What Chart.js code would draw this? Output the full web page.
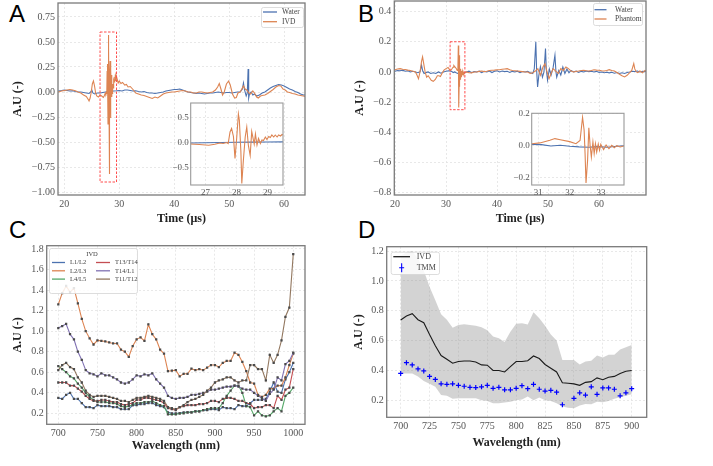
<!DOCTYPE html>
<html>
<head>
<meta charset="utf-8">
<script src="https://cdn.jsdelivr.net/npm/chart.js@4.4.0/dist/chart.umd.min.js"></script>
<style>
  body { margin: 0; background: #fff; width: 713px; height: 466px; overflow: hidden; position: relative; }
  canvas { position: absolute; }
  .lab { position: absolute; font-family: "Liberation Sans", Arial, sans-serif; font-size: 24px; line-height: 1; color: #000; }
</style>
</head>
<body>
<div class="lab" style="left:9px;top:2px">A</div>
<div class="lab" style="left:358px;top:2px">B</div>
<div class="lab" style="left:9px;top:218px">C</div>
<div class="lab" style="left:358px;top:218px">D</div>

<canvas id="cA" width="360" height="232" style="left:0;top:0"></canvas>
<canvas id="cB" width="360" height="232" style="left:353px;top:0"></canvas>
<canvas id="cC" width="360" height="232" style="left:0;top:225px"></canvas>
<canvas id="cD" width="361" height="232" style="left:352px;top:225px"></canvas>
<canvas id="cAi" width="130" height="100" style="left:160px;top:100px"></canvas>
<canvas id="cBi" width="130" height="90" style="left:500px;top:110px"></canvas>

<script>
// ---- panel A: time signals [t (us), amplitude] ----
const waterA = [[18.9,0.01],[19.5,0.015],[20,0.02],[20.5,0.015],[21,0.01],[21.5,0.012],[22,0.005],[22.5,0],[23,0],[23.5,-0.005],[24,-0.01],[24.5,-0.015],[24.8,0],[25,0.02],[25.2,-0.01],[25.5,-0.02],[26,-0.01],[26.5,-0.01],[27,-0.005],[27.5,0],[28,0.005],[28.5,0.008],[29,0.01],[29.5,0.012],[30,0.015],[30.5,0.01],[31,0.02],[31.5,0.02],[32,0.015],[32.5,0.01],[33,0.012],[33.5,0.005],[34,0],[34.5,0.005],[35,-0.005],[35.5,-0.01],[36,-0.01],[36.5,-0.015],[37,-0.01],[37.5,-0.005],[38,0],[38.5,0.01],[39,0.015],[39.5,0.02],[40,0.025],[40.5,0.025],[41,0.03],[41.5,0.02],[42,0.01],[42.5,0],[43,-0.005],[43.5,-0.01],[44,-0.015],[44.5,-0.01],[45,-0.015],[45.5,-0.02],[46,-0.015],[46.5,-0.01],[47,-0.01],[47.5,-0.005],[48,0],[48.5,-0.005],[49,-0.01],[49.5,-0.005],[50,-0.005],[50.5,-0.01],[51,-0.005],[51.5,0],[52,0],[52.4,0.03],[52.6,0.09],[52.8,0.02],[53.1,-0.04],[53.3,-0.01],[53.45,0.23],[53.55,-0.06],[53.7,-0.02],[54,0],[54.3,-0.03],[54.6,-0.02],[55,-0.04],[55.5,-0.03],[56,-0.01],[56.5,0],[57,0.02],[57.5,0.04],[58,0.055],[58.5,0.065],[59,0.075],[59.5,0.07],[60,0.06],[60.5,0.045],[61,0.03],[61.5,0.02],[62,0.005],[62.5,-0.005],[63,-0.02],[63.5,-0.03],[63.8,-0.03]];
const ivdA = [[18.9,0],[19.5,0.01],[20,0.015],[20.5,0.02],[21,0.025],[21.5,0.02],[22,0.012],[22.5,0],[23,-0.01],[23.5,-0.03],[24,-0.045],[24.3,-0.07],[24.5,-0.09],[24.7,-0.06],[24.9,0],[25.1,0.08],[25.3,0.11],[25.5,0.06],[25.7,-0.01],[25.9,-0.04],[26.2,-0.05],[26.5,-0.03],[26.8,-0.04],[27.1,-0.054],[27.3,-0.034],[27.46,-0.01],[27.57,-0.02],[27.68,0],[27.73,-0.02],[27.79,0.21],[27.84,0.28],[27.9,0.12],[27.95,-0.32],[28.0,0.05],[28.06,0.57],[28.09,0.45],[28.14,-0.18],[28.17,-0.82],[28.22,-0.36],[28.28,0.11],[28.33,0.31],[28.38,-0.05],[28.44,-0.26],[28.49,0.22],[28.57,-0.03],[28.61,0.17],[28.66,-0.05],[28.71,0.08],[28.77,-0.02],[28.82,0.05],[28.87,0.04],[28.93,0.11],[28.98,0.06],[29.04,0.12],[29.09,0.1],[29.14,0.15],[29.2,0.11],[29.25,0.15],[29.31,0.11],[29.36,0.15],[29.42,0.13],[29.47,0.16],[29.8,0.09],[30,0.11],[30.3,0.085],[30.6,0.095],[31,0.07],[31.3,0.075],[31.6,0.05],[32,0.055],[32.5,0.025],[33,-0.01],[33.5,-0.02],[34,-0.03],[34.5,-0.035],[35,-0.045],[35.5,-0.055],[36,-0.065],[36.5,-0.05],[37,-0.06],[37.5,-0.04],[38,-0.02],[38.5,-0.01],[39,-0.005],[39.5,0],[40,0],[40.5,0.005],[41,0.01],[41.5,0.015],[42,0.01],[42.5,0],[43,0],[43.5,-0.01],[44,-0.01],[44.5,0],[45,0],[45.5,-0.005],[46,-0.01],[46.5,-0.005],[47,0],[47.5,0.02],[47.9,0.05],[48.2,0.085],[48.5,0.03],[48.8,-0.03],[49.1,0],[49.5,0.08],[49.9,0.11],[50.2,0.07],[50.6,-0.02],[51,-0.06],[51.3,-0.055],[51.6,-0.01],[52,0],[52.3,0.03],[52.6,0.06],[52.9,0.03],[53.2,0.02],[53.6,-0.01],[53.9,-0.02],[54.3,0.01],[54.6,-0.01],[55,-0.05],[55.3,-0.06],[55.7,-0.04],[56,-0.035],[56.5,-0.03],[57,-0.015],[57.5,0.005],[58,0.025],[58.5,0.05],[59,0.065],[59.4,0.06],[59.8,0.03],[60.2,0.02],[60.6,0],[61,-0.005],[61.5,-0.015],[62,-0.02],[62.5,-0.03],[63,-0.035],[63.5,-0.04],[63.8,-0.045]];

// ---- panel B ----
const waterB = [[20,0.005],[20.5,0.01],[21,0.008],[21.5,0.012],[22,0.005],[22.5,0.008],[23,0],[23.5,0.005],[24,0],[24.5,-0.005],[24.9,0],[25.2,0.045],[25.4,0.01],[25.7,-0.01],[26,-0.005],[26.5,0],[27,-0.01],[27.5,-0.005],[28,-0.01],[28.5,0],[29,-0.008],[29.5,0],[30,0.005],[30.5,0.008],[30.8,0.006],[31.1,0.004],[31.4,-0.004],[31.7,0],[32,-0.006],[32.3,-0.01],[32.6,-0.012],[32.9,-0.008],[33.2,-0.012],[33.5,-0.006],[33.8,-0.002],[34,0],[34.5,0.005],[35,-0.005],[35.5,0.003],[36,0],[36.5,0.005],[37,-0.004],[37.5,0.004],[38,0],[38.5,0.006],[39,-0.004],[39.5,0.005],[40,0.008],[40.5,0],[41,0.006],[41.5,0.002],[42,0.005],[42.5,-0.003],[43,0.004],[43.5,0],[44,0.005],[44.5,-0.004],[45,0.003],[45.5,0],[46,0.004],[46.5,-0.005],[47,-0.01],[47.3,0.02],[47.6,0.2],[47.75,0.02],[47.95,-0.1],[48.2,-0.02],[48.5,0.035],[48.9,-0.035],[49.2,0],[49.5,0.155],[49.65,0.02],[49.9,-0.055],[50.25,0.02],[50.6,-0.02],[51,0.03],[51.35,0.11],[51.55,0],[51.7,-0.035],[52.1,0.01],[52.5,-0.02],[52.9,0.033],[53.3,-0.01],[53.7,0.02],[54.1,-0.005],[54.5,0.01],[55,0],[55.5,0.005],[56,-0.003],[56.5,0.004],[57,0],[57.5,0.006],[58,0.002],[58.5,0.005],[59,0],[59.5,0.004],[60,-0.003],[60.5,0],[61,-0.005],[61.5,-0.002],[62,-0.006],[62.5,-0.002],[63,-0.008],[63.5,-0.004],[64,-0.01],[64.5,-0.005],[65,-0.01],[65.5,-0.004],[66,0],[66.5,0.005],[67,0.002],[67.5,0.006],[68,0],[68.5,0.004],[69,0.002],[69.2,0.004]];
const phantomB = [[20,0.015],[20.5,0.02],[21,0.022],[21.5,0.018],[22,0.016],[22.5,0.012],[23,0.01],[23.5,0.005],[24,0],[24.3,-0.02],[24.6,-0.045],[24.9,0],[25.2,0.07],[25.4,0.1],[25.6,0.06],[25.9,0],[26.2,-0.035],[26.5,-0.025],[26.8,-0.04],[27.1,-0.055],[27.5,-0.062],[27.9,-0.05],[28.3,-0.025],[28.6,-0.025],[28.9,-0.03],[29.2,-0.01],[29.6,0.012],[30,0.022],[30.4,0.03],[30.8,0.01],[31.05,0.015],[31.37,0.031],[31.53,0.042],[31.7,0.035],[32.0,0.023],[32.2,0.01],[32.33,0.03],[32.41,0.175],[32.46,0.094],[32.49,-0.052],[32.52,-0.235],[32.57,-0.094],[32.61,0.11],[32.65,0],[32.69,-0.073],[32.74,0.021],[32.78,-0.052],[32.82,0.01],[32.86,-0.042],[32.91,0.008],[32.95,-0.031],[32.99,0.006],[33.08,-0.027],[33.16,0.002],[33.25,-0.021],[33.34,0],[33.42,-0.015],[33.5,-0.002],[33.61,-0.01],[33.72,-0.004],[34,0],[34.5,-0.005],[35,-0.006],[35.5,0],[36,0],[36.5,0.004],[37,0.006],[37.5,0.002],[38,0.005],[38.5,0.01],[39,0.011],[39.5,0.012],[40,0.015],[40.5,0.015],[41,0.018],[41.5,0.02],[42,0.022],[42.5,0.015],[43,0.01],[43.5,0.008],[44,0.006],[44.5,0.004],[45,0.002],[45.5,0],[46,0],[46.5,-0.01],[47,-0.006],[47.5,0.006],[48,0.022],[48.5,-0.022],[49,0.033],[49.4,0.055],[49.8,0],[50.2,-0.044],[50.6,-0.01],[51,0.022],[51.5,0.005],[52,-0.01],[52.5,0.022],[53,0.01],[53.5,0.033],[54,0.022],[54.5,0.006],[55,0],[55.5,0.004],[56,0.006],[56.5,0.01],[57,0.011],[57.5,0.008],[58,0.006],[58.5,0.01],[59,0.015],[59.5,0.012],[60,0.011],[60.5,0.008],[61,0.006],[61.5,0.01],[62,0.015],[62.5,0.01],[63,0.006],[63.5,-0.004],[64,-0.015],[64.5,-0.025],[65,-0.033],[65.5,-0.022],[66,-0.005],[66.4,0.01],[66.8,0.055],[67,0.02],[67.3,0],[67.6,-0.005],[68,0.006],[68.5,-0.005],[69,0.01],[69.2,0.005]];

// zoom windows shown as red dashed boxes [tmin, tmax, vmin, vmax]
const zoomBoxA = [26.5, 29.5, -0.9, 0.6];
const zoomBoxB = [30.8, 33.7, -0.25, 0.2];

// ---- panel C: ratio spectra ----
const wlC = [700,705,710,715,720,725,730,735,740,745,750,755,760,765,770,775,780,785,790,795,800,805,810,815,820,825,830,835,840,845,850,855,860,865,870,875,880,885,890,895,900,905,910,915,920,925,930,935,940,945,950,955,960,965,970,975,980,985,990,995,1000];
const l1l2 = [0.35,0.34,0.38,0.40,0.34,0.34,0.30,0.26,0.26,0.25,0.28,0.27,0.27,0.27,0.26,0.26,0.24,0.24,0.24,0.28,0.28,0.29,0.29,0.30,0.30,0.28,0.27,0.26,0.21,0.20,0.20,0.20,0.21,0.21,0.21,0.22,0.22,0.23,0.23,0.24,0.24,0.23,0.26,0.25,0.25,0.24,0.28,0.27,0.27,0.30,0.33,0.33,0.33,0.34,0.41,0.50,0.41,0.40,0.53,0.60,0.69];
const l2l3 = [1.26,1.37,1.44,1.38,1.42,1.27,1.12,1.00,0.93,0.87,0.91,0.905,0.90,0.89,0.88,0.88,0.82,0.80,0.75,0.855,0.92,0.94,0.905,1.065,0.97,0.92,0.82,0.78,0.61,0.615,0.62,0.56,0.585,0.585,0.635,0.62,0.63,0.62,0.645,0.67,0.67,0.65,0.69,0.71,0.71,0.79,0.77,0.70,0.61,0.50,0.49,0.38,0.36,0.38,0.44,0.44,0.47,0.47,0.55,0.67,0.78];
const l4l5 = [0.66,0.63,0.60,0.56,0.54,0.49,0.45,0.40,0.36,0.33,0.31,0.31,0.31,0.30,0.30,0.29,0.27,0.26,0.27,0.28,0.30,0.30,0.31,0.31,0.32,0.30,0.28,0.27,0.19,0.19,0.19,0.20,0.20,0.21,0.21,0.22,0.22,0.23,0.24,0.25,0.25,0.25,0.30,0.37,0.42,0.47,0.47,0.40,0.27,0.26,0.18,0.22,0.18,0.17,0.18,0.22,0.25,0.22,0.37,0.40,0.45];
const t13t14 = [0.50,0.50,0.50,0.47,0.47,0.44,0.41,0.37,0.34,0.32,0.32,0.33,0.33,0.32,0.31,0.31,0.29,0.28,0.29,0.30,0.33,0.33,0.35,0.35,0.34,0.33,0.32,0.30,0.25,0.24,0.23,0.26,0.27,0.28,0.28,0.28,0.29,0.29,0.30,0.32,0.32,0.31,0.34,0.35,0.35,0.34,0.32,0.32,0.30,0.29,0.25,0.26,0.26,0.28,0.28,0.25,0.37,0.33,0.43,0.45,0.63];
const t14l1 = [1.03,1.05,1.07,0.97,0.92,0.80,0.72,0.62,0.59,0.58,0.56,0.59,0.57,0.57,0.55,0.53,0.50,0.49,0.50,0.53,0.57,0.56,0.58,0.57,0.59,0.53,0.49,0.45,0.37,0.35,0.34,0.35,0.35,0.36,0.38,0.38,0.39,0.40,0.41,0.43,0.43,0.44,0.45,0.46,0.46,0.47,0.46,0.44,0.43,0.43,0.40,0.37,0.35,0.32,0.39,0.43,0.55,0.52,0.68,0.71,0.79];
const t11t12 = [0.62,0.67,0.69,0.65,0.63,0.55,0.50,0.42,0.38,0.36,0.37,0.37,0.37,0.36,0.35,0.34,0.32,0.32,0.31,0.33,0.35,0.35,0.36,0.37,0.36,0.35,0.34,0.32,0.26,0.25,0.24,0.26,0.28,0.31,0.33,0.34,0.36,0.38,0.42,0.45,0.50,0.52,0.53,0.55,0.55,0.52,0.50,0.52,0.52,0.67,0.67,0.63,0.63,0.52,0.77,0.69,0.77,0.91,1.14,1.23,1.75];
const seriesC = ['L1/L2','L2/L3','L4/L5','T13/T14','T14/L1','T11/T12'];
const colorsC = ['#4c72b0','#dd8452','#55a868','#c44e52','#8172b3','#937860'];

// ---- panel D: IVD mean with spread, TMM ----
const wlD = [700,705,710,715,720,725,730,735,740,745,750,755,760,765,770,775,780,785,790,795,800,805,810,815,820,825,830,835,840,845,850,855,860,865,870,875,880,885,890,895,900];
const ivdD = [0.738,0.765,0.78,0.74,0.72,0.64,0.566,0.50,0.475,0.448,0.46,0.463,0.463,0.456,0.437,0.435,0.40,0.40,0.39,0.425,0.46,0.46,0.465,0.497,0.48,0.44,0.415,0.39,0.318,0.314,0.31,0.30,0.32,0.325,0.35,0.338,0.354,0.36,0.38,0.395,0.40];
const ivdUpper = [1.17,1.19,1.20,1.15,1.07,0.96,0.87,0.776,0.74,0.686,0.705,0.71,0.705,0.70,0.69,0.67,0.627,0.615,0.59,0.66,0.713,0.716,0.707,0.79,0.75,0.70,0.64,0.60,0.47,0.47,0.47,0.44,0.46,0.465,0.50,0.486,0.505,0.505,0.54,0.555,0.57];
const ivdLower = [0.38,0.38,0.38,0.36,0.33,0.31,0.29,0.235,0.23,0.21,0.213,0.213,0.213,0.213,0.20,0.195,0.18,0.18,0.185,0.19,0.20,0.205,0.225,0.20,0.218,0.20,0.195,0.18,0.158,0.15,0.147,0.165,0.175,0.173,0.19,0.187,0.195,0.21,0.22,0.23,0.24];
const tmmD = [0.38,0.452,0.437,0.41,0.397,0.36,0.34,0.31,0.307,0.31,0.30,0.294,0.287,0.285,0.29,0.30,0.28,0.287,0.27,0.27,0.28,0.298,0.278,0.307,0.274,0.262,0.267,0.254,0.17,null,0.213,0.25,0.235,0.29,0.24,0.283,0.283,0.274,0.23,0.25,0.278];

// ---- tick labels ----
const ticksAx = [20,30,40,50,60];
const ticksAy = [-1,-0.75,-0.5,-0.25,0,0.25,0.5,0.75];
const ticksAix = [27,28,29];
const ticksAiy = [-0.5,0,0.5];
const ticksBx = [20,30,40,50,60];
const ticksBy = [-0.8,-0.6,-0.4,-0.2,0,0.2,0.4];
const ticksBix = [31,32,33];
const ticksBiy = [-0.2,0,0.2];
const ticksCx = [700,750,800,850,900,950,1000];
const ticksCy = [0.2,0.4,0.6,0.8,1.0,1.2,1.4,1.6,1.8];
const ticksDx = [700,725,750,775,800,825,850,875,900];
const ticksDy = [0.2,0.4,0.6,0.8,1.0,1.2];

const BLUE = '#4c72b0', ORANGE = '#dd8452';
const SERIF = '"Liberation Serif", "DejaVu Serif", serif';

Chart.defaults.animation = false;
Chart.defaults.font.family = SERIF;
Chart.defaults.plugins.legend.display = false;
Chart.defaults.plugins.tooltip.enabled = false;

function fmt(d) {
  return v => (v < -1e-9 ? '\u2212' : '') + Math.abs(v).toFixed(d);
}

function axis(o) {
  return {
    type: 'linear', min: o.min, max: o.max,
    afterBuildTicks: s => { s.ticks = o.ticks.map(v => ({ value: v })); },
    afterFit: s => {
      if (s.isHorizontal()) s.height = o.size; else s.width = o.size;
      s.paddingTop = 0; s.paddingBottom = 0; s.paddingLeft = 0; s.paddingRight = 0;
    },
    ticks: { callback: fmt(o.dec), font: { family: SERIF, size: o.font || 10 }, color: '#555', padding: o.pad || 3, maxRotation: 0, autoSkip: false },
    grid: { color: '#e3e3e3', lineWidth: 0.8, drawTicks: false },
    border: { display: false, dash: [2, 2] },
    title: o.title ? { display: true, text: o.title, color: '#222', font: { family: SERIF, size: 12, weight: 'bold' }, padding: o.tpad } : { display: false }
  };
}

function sig(pairs, color) {
  return { data: pairs.map(p => ({ x: p[0], y: p[1] })), borderColor: color, borderWidth: 1.1, pointRadius: 0, fill: false, tension: 0 };
}

// frame, white inset background, zoom box and boxed legend
const framePlugin = {
  id: 'frame',
  beforeDraw(chart, args, opts) {
    if (opts.bg) {
      const a = chart.chartArea;
      chart.ctx.save();
      chart.ctx.fillStyle = '#fff';
      chart.ctx.fillRect(a.left, a.top, a.right - a.left, a.bottom - a.top);
      chart.ctx.restore();
    }
  },
  afterDraw(chart, args, opts) {
    const a = chart.chartArea, ctx = chart.ctx;
    ctx.save();
    ctx.strokeStyle = opts.color || '#7a7a7a';
    ctx.lineWidth = opts.width || 1.3;
    ctx.strokeRect(a.left, a.top, a.right - a.left, a.bottom - a.top);
    ctx.restore();
  }
};

const zoomBoxPlugin = {
  id: 'zoomBox',
  afterDatasetsDraw(chart, args, opts) {
    if (!opts.rect) return;
    const r = opts.rect, xs = chart.scales.x, ys = chart.scales.y, ctx = chart.ctx;
    const x0 = xs.getPixelForValue(r[0]), x1 = xs.getPixelForValue(r[1]);
    const y0 = ys.getPixelForValue(r[3]), y1 = ys.getPixelForValue(r[2]);
    ctx.save();
    ctx.strokeStyle = '#ff4d4d';
    ctx.lineWidth = 1;
    ctx.setLineDash([2.5, 1.5]);
    ctx.strokeRect(x0, y0, x1 - x0, y1 - y0);
    ctx.restore();
  }
};

const boxLegendPlugin = {
  id: 'boxLegend',
  afterDraw(chart, args, opts) {
    if (!opts.box) return;
    const ctx = chart.ctx, b = opts.box;
    ctx.save();
    ctx.beginPath();
    ctx.roundRect(b[0] + 0.5, b[1] + 0.5, b[2] - b[0], b[3] - b[1], 2);
    ctx.fillStyle = 'rgba(255,255,255,0.85)';
    ctx.fill();
    ctx.strokeStyle = '#d4d4d4';
    ctx.lineWidth = 0.8;
    ctx.stroke();
    ctx.font = opts.size + 'px ' + SERIF;
    ctx.textBaseline = 'middle';
    if (opts.title) {
      ctx.fillStyle = '#444';
      ctx.textAlign = 'center';
      ctx.fillText(opts.title, opts.titleX, opts.titleY);
    }
    ctx.textAlign = 'left';
    for (const it of opts.items) {
      ctx.strokeStyle = it.color;
      ctx.lineWidth = it.kind === 'cross' ? 1.1 : 1.3;
      ctx.beginPath();
      if (it.kind === 'cross') {
        const cx = (it.x0 + it.x1) / 2;
        ctx.moveTo(cx - 2.5, it.y); ctx.lineTo(cx + 2.5, it.y);
        ctx.moveTo(cx, it.y - 4.5); ctx.lineTo(cx, it.y + 4.5);
      } else {
        ctx.moveTo(it.x0, it.y); ctx.lineTo(it.x1, it.y);
      }
      ctx.stroke();
      ctx.fillStyle = '#444';
      ctx.fillText(it.label, it.tx, it.y);
    }
    ctx.restore();
  }
};

const PLUGINS = [framePlugin, zoomBoxPlugin, boxLegendPlugin];

function make(id, datasets, scales, padding, plugins) {
  return new Chart(document.getElementById(id), {
    type: 'line',
    data: { datasets },
    options: {
      responsive: false, devicePixelRatio: 1, events: [],
      layout: { padding },
      scales,
      plugins
    },
    plugins: PLUGINS
  });
}

// A main
make('cA', [sig(ivdA, ORANGE), sig(waterA, BLUE)], {
  x: axis({ min: 18.85, max: 63.8, ticks: ticksAx, dec: 0, size: 37, title: 'Time (\u03bcs)', tpad: { top: 0, bottom: 5.8 } }),
  y: axis({ min: -1.03, max: 0.89, ticks: ticksAy, dec: 2, size: 58, title: 'A.U (-)', tpad: { top: 11, bottom: 0 } })
}, { left: 0, top: 3, right: 55, bottom: 0 }, {
  frame: {},
  zoomBox: { rect: zoomBoxA },
  boxLegend: { box: [261, 7, 303, 27], size: 7.5, items: [
    { label: 'Water', color: BLUE, x0: 263, x1: 277, tx: 282, y: 12 },
    { label: 'IVD', color: ORANGE, x0: 263, x1: 277, tx: 282, y: 21.7 }
  ] }
});

// A inset
make('cAi', [sig(ivdA, ORANGE), sig(waterA, BLUE)], {
  x: axis({ min: 26.52, max: 29.5, ticks: ticksAix, dec: 0, size: 15, font: 9, pad: 2 }),
  y: axis({ min: -0.85, max: 0.79, ticks: ticksAiy, dec: 1, size: 30.7, font: 9, pad: 2 })
}, { left: 0, top: 3, right: 7, bottom: 0 }, {
  frame: { bg: true, color: '#9a9a9a', width: 1.1 }
});

// B main
make('cB', [sig(phantomB, ORANGE), sig(waterB, BLUE)], {
  x: axis({ min: 19.86, max: 69.2, ticks: ticksBx, dec: 0, size: 37, title: 'Time (\u03bcs)', tpad: { top: 0, bottom: 5.8 } }),
  y: axis({ min: -0.815, max: 0.47, ticks: ticksBy, dec: 1, size: 41.3, title: 'A.U (-)', tpad: { top: 0, bottom: 0 } })
}, { left: 0, top: 1, right: 67, bottom: 0 }, {
  frame: {},
  zoomBox: { rect: zoomBoxB },
  boxLegend: { box: [240, 3, 289, 25], size: 7.5, items: [
    { label: 'Water', color: BLUE, x0: 241.5, x1: 253.5, tx: 262, y: 9.7 },
    { label: 'Phantom', color: ORANGE, x0: 241.5, x1: 253.5, tx: 262, y: 19 }
  ] }
});

// B inset
make('cBi', [sig(phantomB, ORANGE), sig(waterB, BLUE)], {
  x: axis({ min: 30.79, max: 33.73, ticks: ticksBix, dec: 0, size: 15, font: 9, pad: 2 }),
  y: axis({ min: -0.248, max: 0.2, ticks: ticksBiy, dec: 1, size: 31.7, font: 9, pad: 2 })
}, { left: 0, top: 3.3, right: 6, bottom: 0 }, {
  frame: { bg: true, color: '#9a9a9a', width: 1.1 }
});

// C
const valsC = [l1l2, l2l3, l4l5, t13t14, t14l1, t11t12];
const dsC = valsC.map((vals, i) => ({
  data: vals.map((v, j) => ({ x: wlC[j], y: v })),
  borderColor: colorsC[i], borderWidth: 1.1, tension: 0, fill: false,
  pointStyle: 'rect', pointRadius: 1.6, pointBackgroundColor: '#4a4a4a', pointBorderWidth: 0
})).reverse();
make('cC', dsC, {
  x: axis({ min: 685.2, max: 1015, ticks: ticksCx, dec: 0, size: 32.7, title: 'Wavelength (nm)', tpad: { top: 0, bottom: 4.1 } }),
  y: axis({ min: 0.093, max: 1.832, ticks: ticksCy, dec: 1, size: 46.7, title: 'A.U (-)', tpad: { top: 11, bottom: 0 } })
}, { left: 0, top: 20.7, right: 55, bottom: 0 }, {
  frame: {},
  boxLegend: { box: [49, 23, 137, 68], size: 6.5, title: 'IVD', titleX: 92, titleY: 29.5, items: [
    { label: seriesC[0], color: colorsC[0], x0: 52, x1: 65, tx: 70, y: 37.5 },
    { label: seriesC[1], color: colorsC[1], x0: 52, x1: 65, tx: 70, y: 45.8 },
    { label: seriesC[2], color: colorsC[2], x0: 52, x1: 65, tx: 70, y: 54.1 },
    { label: seriesC[3], color: colorsC[3], x0: 96, x1: 110, tx: 115, y: 37.5 },
    { label: seriesC[4], color: colorsC[4], x0: 96, x1: 110, tx: 115, y: 45.8 },
    { label: seriesC[5], color: colorsC[5], x0: 96, x1: 110, tx: 115, y: 54.1 }
  ] }
});

// D
const pts = arr => arr.map((v, j) => ({ x: wlD[j], y: v }));
make('cD', [
  { data: pts(tmmD), showLine: false, pointStyle: 'cross', pointRadius: 2.5, borderColor: '#0000ff', pointBorderColor: '#0000ff', pointBorderWidth: 1.2 },
  { data: pts(ivdD), borderColor: '#1a1a1a', borderWidth: 1.1, pointRadius: 0, tension: 0, fill: false },
  { data: pts(ivdUpper), borderWidth: 0, pointRadius: 0, tension: 0, fill: '+1', backgroundColor: 'rgba(150,150,150,0.42)' },
  { data: pts(ivdLower), borderWidth: 0, pointRadius: 0, tension: 0, fill: false }
], {
  x: axis({ min: 687.9, max: 913, ticks: ticksDx, dec: 0, size: 39.7, title: 'Wavelength (nm)', tpad: { top: 0, bottom: 6.8 } }),
  y: axis({ min: 0.086, max: 1.229, ticks: ticksDy, dec: 1, size: 34.7, title: 'A.U (-)', tpad: { top: 0, bottom: 0 } })
}, { left: 0, top: 21.7, right: 66.3, bottom: 0 }, {
  frame: {},
  boxLegend: { box: [38.7, 26.7, 87, 49], size: 8, items: [
    { label: 'IVD', color: '#1a1a1a', x0: 41.3, x1: 58, tx: 64.7, y: 31.7 },
    { label: 'TMM', color: '#0000ff', kind: 'cross', x0: 41.3, x1: 58, tx: 64.7, y: 42.7 }
  ] }
});
</script>
</body>
</html>
